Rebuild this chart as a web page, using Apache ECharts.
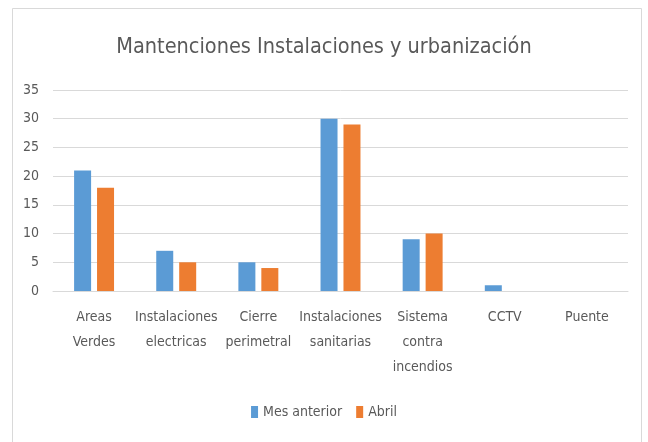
<!DOCTYPE html>
<html>
<head>
<meta charset="utf-8">
<script src="https://cdn.jsdelivr.net/npm/echarts@6/dist/echarts.min.js"></script>
<style>html,body{margin:0;padding:0;background:#fff;}#c{width:648px;height:442px;}</style>
</head>
<body>
<div id="c"></div>
<script>
const categories = ['Areas\nVerdes', 'Instalaciones\nelectricas', 'Cierre\nperimetral', 'Instalaciones\nsanitarias', 'Sistema\ncontra\nincendios', 'CCTV', 'Puente'];
const mesAnterior = [21, 7, 5, 30, 9, 1, 0];
const abril = [18, 5, 4, 29, 10, 0, 0];
const yTicks = [0, 5, 10, 15, 20, 25, 30, 35];

const font = "'Liberation Sans Narrow', 'Arial Narrow', 'DejaVu Sans Condensed', sans-serif";
const chart = echarts.init(document.getElementById('c'));
chart.setOption({
  animation: false,
  textStyle: { fontFamily: font },
  graphic: [{
    type: 'rect', silent: true, z: -1,
    shape: { x: 12.5, y: 8.5, width: 629, height: 440 },
    style: { fill: '#fff', stroke: '#d9d9d9', lineWidth: 1 }
  }],
  title: {
    text: 'Mantenciones Instalaciones y urbanización',
    left: 'center', top: 31,
    textStyle: { fontFamily: font, fontSize: 21.5, fontWeight: 'normal', color: '#595959' }
  },
  legend: {
    bottom: 18, left: 'center',
    itemWidth: 7, itemHeight: 12, itemGap: 14,
    icon: 'rect',
    textStyle: { fontFamily: font, fontSize: 14, color: '#595959' },
    data: ['Mes anterior', 'Abril']
  },
  grid: { left: 53, right: 20, top: 90, bottom: 151, containLabel: false },
  xAxis: {
    type: 'category',
    data: categories,
    axisLine: { lineStyle: { color: '#d9d9d9' } },
    axisTick: { show: false },
    axisLabel: { fontFamily: font, fontSize: 14, color: '#595959', lineHeight: 25, margin: 14, interval: 0 }
  },
  yAxis: {
    type: 'value',
    min: yTicks[0], max: yTicks[yTicks.length - 1], interval: 5,
    axisLine: { show: false },
    axisTick: { show: false },
    splitLine: { lineStyle: { color: '#d9d9d9', width: 1 } },
    axisLabel: { fontFamily: font, fontSize: 14, color: '#595959', margin: 14 }
  },
  series: [
    { name: 'Mes anterior', type: 'bar', data: mesAnterior, barWidth: 17, barGap: '35%',
      itemStyle: { color: '#5b9bd5' } },
    { name: 'Abril', type: 'bar', data: abril, barWidth: 17,
      itemStyle: { color: '#ed7d31' } }
  ]
});
</script>
</body>
</html>
